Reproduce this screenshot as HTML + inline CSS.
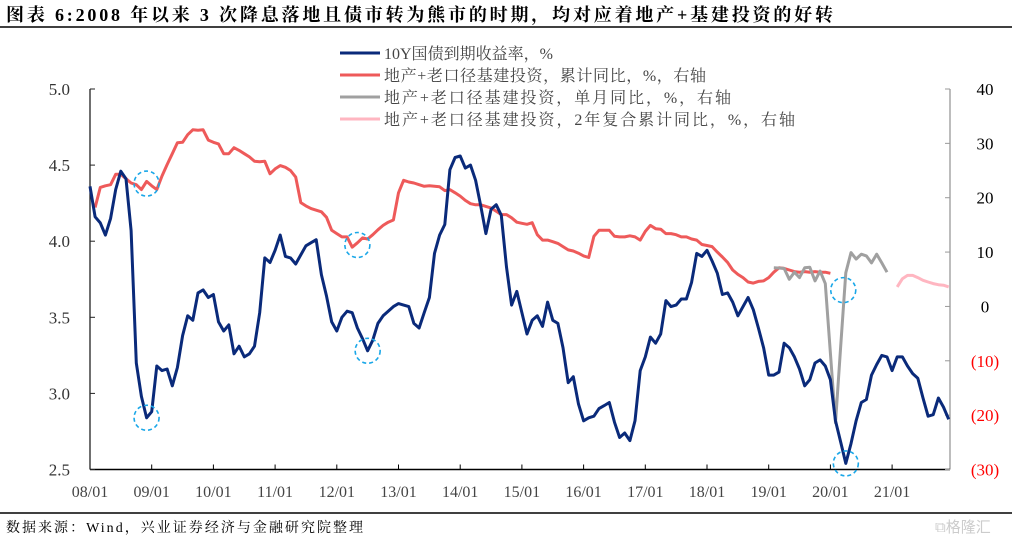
<!DOCTYPE html>
<html><head><meta charset="utf-8">
<style>
body{margin:0;background:#fff;width:1012px;height:541px;overflow:hidden;font-family:"Liberation Serif","Noto Serif CJK SC",serif;}
svg{position:absolute;left:0;top:0}
</style></head>
<body>
<svg id="chart" width="1012" height="541">
<text x="6" y="21" font-size="18" font-weight="bold" fill="#000" textLength="827" lengthAdjust="spacing" font-family="Liberation Serif, Noto Serif CJK SC, serif">图表 6:2008 年以来 3 次降息落地且债市转为熊市的时期，均对应着地产+基建投资的好转</text>
<line x1="0" y1="27" x2="1012" y2="27" stroke="#000" stroke-width="1.5"/>
<line x1="0" y1="513" x2="1012" y2="513" stroke="#000" stroke-width="1.5"/>
<text x="6" y="532" font-size="14" fill="#000" textLength="357" lengthAdjust="spacing" font-family="Liberation Serif, Noto Serif CJK SC, serif">数据来源：Wind，兴业证券经济与金融研究院整理</text>
<text x="935" y="532" font-size="15" fill="#ccc" font-family="Liberation Sans, Noto Sans CJK SC, sans-serif">⧉格隆汇</text>
<g id="plot"></g>
</svg>
<script>
// ---- data ----
const xTickLabels=["08/01","09/01","10/01","11/01","12/01","13/01","14/01","15/01","16/01","17/01","18/01","19/01","20/01","21/01"];
const leftTicks=[2.5,3.0,3.5,4.0,4.5,5.0];
const rightTicks=[-30,-20,-10,0,10,20,30,40];
// 10Y yield, monthly from 2008-01
const yieldValues=[4.36,4.16,4.12,4.04,4.15,4.34,4.46,4.41,4.07,3.20,2.98,2.84,2.88,3.18,3.15,3.16,3.05,3.17,3.38,3.51,3.48,3.66,3.68,3.63,3.65,3.47,3.41,3.45,3.26,3.31,3.24,3.26,3.31,3.53,3.89,3.86,3.94,4.04,3.90,3.89,3.85,3.91,3.97,3.99,4.01,3.78,3.64,3.47,3.41,3.50,3.54,3.53,3.43,3.36,3.28,3.35,3.46,3.51,3.54,3.57,3.59,3.58,3.57,3.46,3.43,3.53,3.63,3.92,4.04,4.11,4.47,4.55,4.56,4.48,4.50,4.40,4.23,4.05,4.21,4.24,4.17,3.83,3.58,3.67,3.53,3.39,3.48,3.51,3.44,3.60,3.48,3.46,3.30,3.07,3.11,2.93,2.82,2.84,2.85,2.90,2.92,2.94,2.81,2.71,2.74,2.69,2.82,3.15,3.24,3.37,3.33,3.39,3.61,3.57,3.58,3.62,3.62,3.73,3.92,3.90,3.94,3.87,3.79,3.65,3.66,3.60,3.51,3.57,3.63,3.55,3.43,3.30,3.12,3.12,3.14,3.33,3.30,3.24,3.16,3.05,3.09,3.20,3.22,3.18,3.09,2.82,2.68,2.54,2.67,2.82,2.94,2.96,3.12,3.19,3.25,3.24,3.15,3.24,3.24,3.18,3.13,3.10,2.97,2.85,2.86,2.97,2.91,2.83];
// cumulative YoY, starts 2008-02
const cumStart=1;
const cumValues=[18.2,21.9,22.2,22.4,24.3,24.3,23.5,22.7,22.4,21.5,23.0,22.2,21.5,24.0,26.1,28.1,30.1,30.2,31.6,32.5,32.4,32.5,30.6,30.2,29.9,28.1,28.1,29.2,28.7,28.1,27.5,26.7,26.6,26.7,24.4,25.3,25.9,25.6,25.0,23.8,19.1,18.5,18.0,17.7,17.4,16.4,14.0,13.4,12.8,12.8,10.9,11.7,12.6,12.4,13.2,14.1,14.9,15.5,15.9,20.9,23.2,22.9,22.7,22.4,22.1,22.2,22.1,22.0,21.3,21.5,20.9,20.3,19.5,18.9,18.7,18.7,18.4,18.1,17.5,16.9,16.9,16.3,15.5,15.3,15.1,15.4,13.2,12.2,12.2,11.9,11.6,11.0,10.4,10.2,9.8,9.3,9.0,12.9,14.0,14.0,14.0,12.9,12.8,12.8,13.0,12.8,12.2,13.8,14.9,14.3,14.2,13.4,13.4,13.2,12.8,12.8,12.4,12.2,11.4,11.2,11.0,10.0,9.1,8.1,6.7,5.9,5.3,4.5,4.3,4.6,4.7,5.3,6.3,7.1,7.0,6.7,6.4,6.3,6.4,6.3,6.4,6.3,6.3,6.1];
// single-month YoY (month index from 2008-01)
const monthMonths=[133,135,136,137,138,139,140,141,142,143,145,146,147,148,149,150,151,152,153,154,155];
const monthValues=[7.1,7.0,5.0,6.3,5.3,7.1,7.2,4.7,6.5,4.2,-21.4,-7.3,6.2,9.9,8.7,9.6,9.3,8.0,9.6,8.0,6.3];
// 2-year compound cumulative YoY
const cagrStart=157;
const cagrValues=[3.6,5.1,5.7,5.7,5.3,4.8,4.5,4.2,4.0,3.9,3.6];
const legendLabels=["10Y国债到期收益率，%","地产+老口径基建投资，累计同比，%，右轴","地产+老口径基建投资，单月同比，%，右轴","地产+老口径基建投资，2年复合累计同比，%，右轴"];
// highlight circles: [month, axis, value]
const circleMonths=[11,11,52,54,146.5,147];
const circleAxis=["R","L","R","L","R","L"];
const circleValues=[22.6,2.84,11.3,3.28,3.0,2.54];

// ---- axes ----
const X0=90,X1=950,YT=89,YB=469.5;
const xs=m=>X0+m*(61.7/12);
const yL=v=>YB-(v-2.5)/2.5*(YB-YT);
const yR=v=>YB-(v+30)/70*(YB-YT);
const NS="http://www.w3.org/2000/svg";
const g=document.getElementById('plot');
function mk(t,a){const e=document.createElementNS(NS,t);for(const k in a)e.setAttribute(k,a[k]);g.appendChild(e);return e;}
const FONT="Liberation Serif, Noto Serif CJK SC, serif";

let e;
e=mk('line',{x1:X0,y1:YT,x2:X0,y2:YB,stroke:'#222','stroke-width':1.3});


e=mk('line',{x1:X1,y1:YT,x2:X1,y2:YB,stroke:'#999','stroke-width':1.3});


e=mk('line',{x1:X0,y1:YB,x2:X1,y2:YB,stroke:'#000','stroke-width':1.5});



leftTicks.forEach(v=>{
  const y=yL(v);
  e=mk('line',{x1:X0,y1:y,x2:X0+5,y2:y,stroke:'#222'});
  
  
  e=mk('text',{x:70,y:y+6,'text-anchor':'end','font-size':17,fill:'#333','font-family':FONT});
  e.textContent=v.toFixed(1);
  
  
});
rightTicks.forEach(v=>{
  const y=yR(v);
  e=mk('line',{x1:X1-5,y1:y,x2:X1,y2:y,stroke:'#999'});
  
  
  e=mk('text',{x:985,y:y+6,'text-anchor':'middle','font-size':17,fill:v<0?'#f00':'#000','font-family':FONT});
  e.textContent=v<0?'('+(-v)+')':String(v);
  
  
});
xTickLabels.forEach((s,i)=>{
  const x=xs(i*12);
  if(i>0){e=mk('line',{x1:x,y1:YB-5,x2:x,y2:YB,stroke:'#000'});
  
  }
  e=mk('text',{x:x,y:497,'text-anchor':'middle','font-size':16,fill:'#444','font-family':FONT});
  e.textContent=s;
  
  
});

function path(pts,color,w,name){
  const d=pts.map((p,i)=>(i?'L':'M')+p[0].toFixed(1)+','+p[1].toFixed(1)).join('');
  const p=mk('path',{d:d,fill:'none',stroke:color,'stroke-width':w,'stroke-linejoin':'round'});
  
  
}
path(cumValues.map((v,i)=>[xs(cumStart+i),yR(v)]),'#ee5a5a',3,'series-cumulative-yoy');
path(monthValues.map((v,i)=>[xs(monthMonths[i]),yR(v)]),'#a0a0a0',3,'series-monthly-yoy');
path(cagrValues.map((v,i)=>[xs(cagrStart+i),yR(v)]),'#ffb6c1',3,'series-2y-cagr');
path(yieldValues.map((v,i)=>[xs(i),yL(v)]),'#0a2a7a',3,'series-10y-yield');

circleMonths.forEach((m,i)=>{
  const y=circleAxis[i]==='L'?yL(circleValues[i]):yR(circleValues[i]);
  e=mk('ellipse',{cx:xs(m),cy:y,rx:12.5,ry:12.5,fill:'none',stroke:'#1aa7e8','stroke-width':1.6,'stroke-dasharray':'4,3'});
  
  
});

const legColors=['#0a2a7a','#ee5a5a','#a0a0a0','#ffb6c1'];
const legLengths=[169,322,347,411];
legendLabels.forEach((s,i)=>{
  const y=53+i*22;
  e=mk('line',{x1:340,y1:y,x2:380,y2:y,stroke:legColors[i],'stroke-width':3});
  
  
  e=mk('text',{x:384,y:y+6,'font-size':16,fill:'#444','font-family':FONT,textLength:legLengths[i],lengthAdjust:'spacing'});
  e.textContent=s;
  
  
});
</script>
</body></html>
